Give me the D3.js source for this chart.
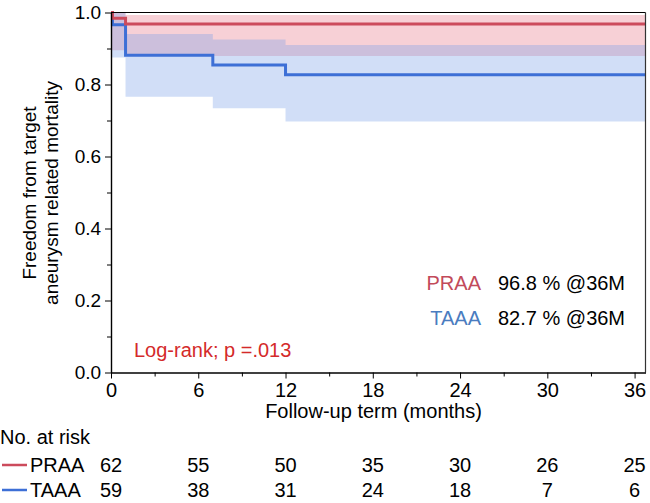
<!DOCTYPE html>
<html><head><meta charset="utf-8">
<script src="https://cdn.jsdelivr.net/npm/d3@7"></script>
<style>body{margin:0;background:#fff}svg{display:block;font-family:"Liberation Sans",Arial,sans-serif}</style>
</head><body><svg id="c" width="650" height="503"></svg>
<script>
// ---- data ----
const groups = ["PRAA", "TAAA"];
const praaTimes = [0, 0.1, 1, 36.75];
const praaSurv  = [1.0, 0.984, 0.968, 0.968];
const praaLower = [0.895, 0.895, 0.879, 0.879];
const praaUpper = [1.0, 1.0, 0.993, 0.993];
const taaaTimes = [0, 0.1, 1, 7, 12, 36.75];
const taaaSurv  = [1.0, 0.966, 0.881, 0.854, 0.827, 0.827];
const taaaLower = [0.875, 0.875, 0.766, 0.734, 0.697, 0.697];
const taaaUpper = [1.0, 1.0, 0.94, 0.925, 0.91, 0.91];
const xTicks = [0, 6, 12, 18, 24, 30, 36];
const yTicks = [0, 0.2, 0.4, 0.6, 0.8, 1.0];
const riskPRAA = [62, 55, 50, 35, 30, 26, 25];
const riskTAAA = [59, 38, 31, 24, 18, 7, 6];
const summary = ["96.8 % @36M", "82.7 % @36M"];
const logRank = "Log-rank; p =.013";

const colors = {PRAA: "#cc4b5c", TAAA: "#3d6fd6"};
const bandColors = {PRAA: "#e8788a", TAAA: "#7aa0e8"};
const labelColors = {PRAA: "#c24a5a", TAAA: "#4a7cc0"};

const svg = d3.select("#c");
const L = 111, R = 645.5, T = 12.5, B = 372.5;
const x = d3.scaleLinear().domain([0, 36.75]).range([L, R]);
const y = d3.scaleLinear().domain([0, 1]).range([B, T]);

const series = [
  {name: "PRAA", t: praaTimes, s: praaSurv, lo: praaLower, hi: praaUpper},
  {name: "TAAA", t: taaaTimes, s: taaaSurv, lo: taaaLower, hi: taaaUpper}
];

// bands
series.forEach(d => {
  const pts = d.t.map((t, i) => ({t, lo: d.lo[i], hi: d.hi[i], s: d.s[i]}));
  const area = d3.area().curve(d3.curveStepAfter)
    .x(p => x(p.t)).y0(p => y(p.lo)).y1(p => y(p.hi));
  svg.append("path").datum(pts).attr("d", area)
    .attr("fill", bandColors[d.name]).attr("fill-opacity", 0.35);
});
// lines
series.slice().reverse().forEach(d => {
  const pts = d.t.map((t, i) => ({t, s: d.s[i]}));
  const line = d3.line().curve(d3.curveStepAfter).x(p => x(p.t)).y(p => y(p.s));
  svg.append("path").datum(pts).attr("d", line).attr("fill", "none")
    .attr("stroke", colors[d.name]).attr("stroke-width", 3);
});

// frame
svg.append("line").attr("x1", L).attr("x2", R).attr("y1", T).attr("y2", T).attr("stroke", "#000").attr("stroke-width", 1.2);
svg.append("line").attr("x1", R).attr("x2", R).attr("y1", T).attr("y2", B).attr("stroke", "#333").attr("stroke-width", 1.2);

// axes
const fs = 20;
const xAxis = d3.axisBottom(x).tickValues(xTicks).tickSize(6).tickSizeOuter(0).tickFormat(d3.format("d"));
const gx = svg.append("g").attr("transform", `translate(0,${B})`).call(xAxis);
gx.select(".domain").attr("stroke-width", 1.4);
gx.selectAll(".tick text").attr("font-size", fs).attr("fill", "#000").attr("dy", "0.78em");
const gxm = svg.append("g").attr("transform", `translate(0,${B})`)
  .call(d3.axisBottom(x).tickValues(d3.range(3, 36, 6)).tickSize(4).tickFormat(""));
gxm.select(".domain").remove();

const yAxis = d3.axisLeft(y).tickValues(yTicks).tickSize(6).tickSizeOuter(0).tickFormat(d3.format(".1f"));
const gy = svg.append("g").attr("transform", `translate(${L},0)`).call(yAxis);
gy.select(".domain").attr("stroke-width", 1.4);
gy.selectAll(".tick text").attr("font-size", 19).attr("fill", "#000").attr("dx", "-0.05em");
const gym = svg.append("g").attr("transform", `translate(${L},0)`)
  .call(d3.axisLeft(y).tickValues(d3.range(0.1, 1, 0.2)).tickSize(4).tickFormat(""));
gym.select(".domain").remove();

// axis titles
svg.append("text").attr("x", (L + 636) / 2).attr("y", 418).attr("text-anchor", "middle")
  .attr("font-size", fs).text("Follow-up term (months)");
const yt = svg.append("text").attr("transform", "translate(0,193) rotate(-90)")
  .attr("text-anchor", "middle").attr("font-size", 19);
yt.append("tspan").attr("x", 0).attr("y", 36).text("Freedom from target");
yt.append("tspan").attr("x", 0).attr("y", 58).text("aneurysm related mortality");

// summary labels
groups.forEach((g, i) => {
  const yy = 290 + i * 35;
  svg.append("text").attr("x", 481).attr("y", yy).attr("text-anchor", "end")
    .attr("font-size", fs).attr("fill", labelColors[g]).text(g);
  svg.append("text").attr("x", 498).attr("y", yy).attr("font-size", fs).attr("fill", "#000").text(summary[i]);
});
svg.append("text").attr("x", 134).attr("y", 357).attr("font-size", fs).attr("fill", "#d42a2a").text(logRank);

// risk table
svg.append("text").attr("x", 0).attr("y", 444).attr("font-size", fs).text("No. at risk");
[riskPRAA, riskTAAA].forEach((row, i) => {
  const g = groups[i];
  const yy = 465 + i * 25;
  svg.append("line").attr("x1", 2).attr("x2", 27).attr("y1", yy).attr("y2", yy)
    .attr("stroke", colors[g]).attr("stroke-width", 2.5);
  svg.append("text").attr("x", 30).attr("y", yy + 7).attr("font-size", fs).text(g);
  svg.selectAll(null).data(row).enter().append("text")
    .attr("x", (d, j) => x(xTicks[j])).attr("y", yy + 7).attr("text-anchor", "middle")
    .attr("font-size", fs).text(d => d);
});
</script></body></html>
